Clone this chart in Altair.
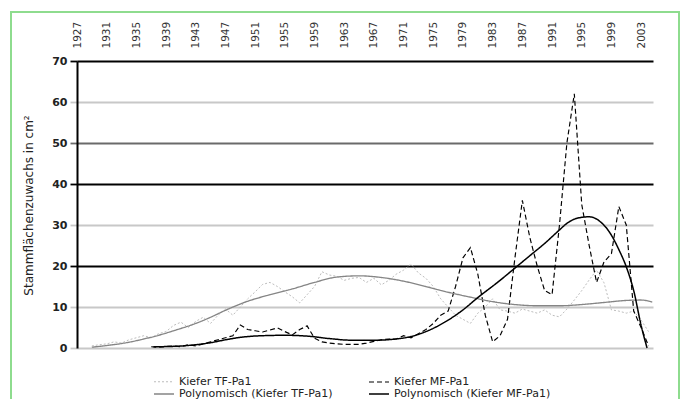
import altair as alt
import pandas as pd

FONT = "DejaVu Sans"

year_ticks = [1927, 1931, 1935, 1939, 1943, 1947, 1951, 1955, 1959, 1963,
              1967, 1971, 1975, 1979, 1983, 1987, 1991, 1995, 1999, 2003]
y_ticks = [0, 10, 20, 30, 40, 50, 60, 70]

series_names = ["Kiefer TF-Pa1", "Kiefer MF-Pa1",
                "Polynomisch (Kiefer TF-Pa1)", "Polynomisch (Kiefer MF-Pa1)"]

tf_years = list(range(1929, 2005))
tf_values = [0.5, 0.8, 1.0, 1.5, 1.2, 2.0, 2.5, 3.0, 2.5, 3.5,        # 1929-1938
             4.0, 5.5, 6.3, 5.0, 6.5, 7.5, 6.0, 8.0, 9.5, 8.0,        # 1939-1948
             10.0, 12.0, 13.7, 15.5, 16.0, 15.0, 13.7, 12.5, 11.0, 13.0,  # 1949-1958
             15.0, 18.6, 17.8, 17.5, 16.5, 17.0, 17.2, 16.0, 17.0, 15.4,  # 1959-1968
             16.5, 18.0, 19.0, 20.5, 18.3, 17.0, 15.0, 12.0, 10.0, 8.0,   # 1969-1978
             7.0, 6.0, 8.5, 10.0, 12.0, 9.3, 9.0, 8.5, 9.5, 9.0,          # 1979-1988
             8.5, 9.3, 8.0, 7.6, 9.5, 11.7, 14.0, 16.6, 19.0, 15.9,       # 1989-1998
             9.3, 9.0, 8.5, 9.0, 6.8, 4.0]                                # 1999-2004

mf_years = list(range(1937, 2005))
mf_values = [0.3, 0.2, 0.4, 0.5, 0.3, 0.8, 0.5, 1.0, 1.5, 2.0,        # 1937-1946
             2.5, 3.0, 5.6, 4.5, 4.2, 3.9, 4.4, 4.9, 4.0, 3.2,        # 1947-1956
             4.5, 5.4, 2.4, 1.5, 1.2, 1.0, 0.9, 0.9, 0.9, 1.2,        # 1957-1966
             1.6, 2.0, 2.2, 2.2, 3.0, 2.5, 3.5, 4.5, 6.0, 8.0,        # 1967-1976
             9.0, 15.0, 22.0, 24.5, 18.0, 8.0, 1.5, 3.0, 7.0, 22.0,   # 1977-1986
             36.0, 27.0, 20.0, 14.0, 13.0, 30.0, 50.0, 62.0, 35.0, 25.0,  # 1987-1996
             16.0, 21.0, 23.0, 34.5, 30.0, 9.0, 5.0, 0.5]             # 1997-2004

tf_trend_years = [1929, 1931, 1934, 1936, 1938, 1940, 1943, 1945, 1947, 1950,
                  1953, 1956, 1959, 1962, 1965, 1968, 1971, 1974, 1977, 1980,
                  1983, 1986, 1989, 1992, 1995, 1998, 2001, 2003, 2004.5]
tf_trend_values = [0.2, 0.6, 1.4, 2.2, 3.1, 4.2, 6.0, 7.5, 9.2, 11.4,
                   13.0, 14.4, 16.0, 17.3, 17.6, 17.2, 16.3, 15.0, 13.6, 12.4,
                   11.3, 10.6, 10.3, 10.3, 10.6, 11.1, 11.6, 11.7, 11.2]

mf_trend_years = [1937.3, 1940, 1943, 1945, 1947, 1949, 1952, 1955, 1958, 1961,
                  1964, 1967, 1970, 1972, 1974, 1977, 1979, 1981, 1984, 1986,
                  1988, 1990, 1992, 1993, 1994.5, 1996, 1997.5, 1999, 2000, 2001,
                  2002, 2003, 2003.8]
mf_trend_values = [0.3, 0.4, 0.8, 1.3, 2.0, 2.6, 3.0, 3.1, 2.9, 2.3,
                   1.9, 1.9, 2.2, 2.8, 4.0, 6.8, 9.3, 12.3, 16.5, 19.5,
                   22.5, 25.5, 28.8, 30.4, 31.7, 32.0, 30.8, 27.5, 24.0, 19.8,
                   14.0, 5.5, 0.0]

frames = []
for name, ys, vs, kind in [
    (series_names[0], tf_years, tf_values, "raw"),
    (series_names[1], mf_years, mf_values, "raw"),
    (series_names[2], tf_trend_years, tf_trend_values, "trend"),
    (series_names[3], mf_trend_years, mf_trend_values, "trend"),
]:
    frames.append(pd.DataFrame({"year": ys, "value": vs, "series": name, "kind": kind}))
df = pd.concat(frames, ignore_index=True)

grid_cond = {
    "condition": [
        {"test": "datum.value === 20 || datum.value === 40 || datum.value === 70", "value": "#000000"},
        {"test": "datum.value === 50", "value": "#6a6a6a"},
    ],
    "value": "#c8c8c8",
}

legend = alt.Legend(
    title=None, orient="none", legendX=86, legendY=315, columns=2,
    direction="horizontal",
    symbolType="M-3,0H1", symbolSize=100, labelFont=FONT, labelFontSize=11,
    labelColor="#222222", labelOffset=4, rowPadding=1, columnPadding=33,
    padding=0, labelLimit=400,
)

base = alt.Chart(df).encode(
    x=alt.X("year:Q",
            scale=alt.Scale(domain=[1927, 2004.6], nice=False, zero=False),
            axis=alt.Axis(orient="top", values=year_ticks, format="d", labelAngle=-90,
                          ticks=False, tickSize=0, domain=False, grid=False,
                          labelPadding=13, labelFont=FONT, labelFontSize=10.5,
                          labelColor="#333333", title=None)),
    y=alt.Y("value:Q",
            scale=alt.Scale(domain=[0, 70], nice=False),
            axis=alt.Axis(values=y_ticks, domainColor="#000000", domainWidth=2,
                          tickSize=7, tickWidth=1.8, tickColor=grid_cond,
                          grid=True, gridColor=grid_cond, gridWidth=1.8,
                          labelFont=FONT, labelFontSize=11, labelFontWeight="bold",
                          labelColor="#222222", labelPadding=3,
                          title="Stammflächenzuwachs in cm²", titleFont=FONT,
                          titleFontSize=12, titleFontWeight="normal", titleColor="#222222",
                          titleX=-49, titleY=144, titleAngle=-90,
                          titleAlign="center", titleBaseline="middle")),
    color=alt.Color("series:N",
                    scale=alt.Scale(domain=series_names,
                                    range=["#bdbdbd", "#000000", "#858585", "#000000"]),
                    legend=legend),
    strokeDash=alt.StrokeDash("series:N",
                              scale=alt.Scale(domain=series_names,
                                              range=[[2, 2], [5, 3], [1, 0], [1, 0]]),
                              legend=legend),
    strokeWidth=alt.StrokeWidth("series:N",
                                scale=alt.Scale(domain=series_names,
                                                range=[1.0, 1.5, 2.2, 2.6]),
                                legend=legend),
    order=alt.Order("year:Q"),
)

raw = base.transform_filter(alt.datum.kind == "raw").mark_line()
trend = base.transform_filter(alt.datum.kind == "trend").mark_line(interpolate="monotone")

frame = alt.Chart(pd.DataFrame({"a": [0]})).mark_rect(
    fill=None, stroke="#8edc8e", strokeWidth=2
).encode(x=alt.value(-66), x2=alt.value(602), y=alt.value(-49), y2=alt.value(360))

chart = alt.layer(frame, raw, trend).properties(
    width=576, height=287,
    padding={"left": 69, "top": 53, "right": 27, "bottom": 51},
    autosize=alt.AutoSizeParams(type="none"),
    background="white",
).configure_view(stroke=None)

chart.save("out.html", embed_options={"renderer": "svg", "actions": False})
